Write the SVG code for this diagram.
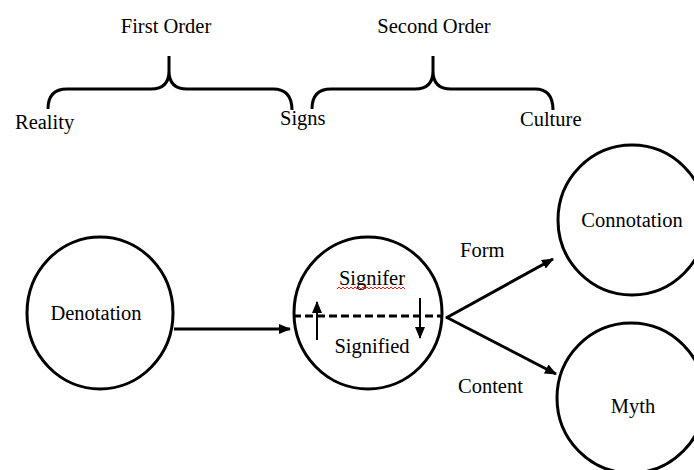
<svg xmlns="http://www.w3.org/2000/svg" width="694" height="470" viewBox="0 0 694 470">
<style>
.c{text-anchor:middle}
.node{fill:#fff;stroke:#000;stroke-width:3}
.ln{fill:none;stroke:#000;stroke-width:3}
</style>
<defs>
<marker id="ah" viewBox="0 0 12 10" refX="11" refY="5" markerWidth="12" markerHeight="10" markerUnits="userSpaceOnUse" orient="auto">
<path d="M0,0 L12,5 L0,10 Z" fill="#000"/>
</marker>
</defs>
<rect width="694" height="470" fill="#fff"/>
<g font-family="Liberation Serif, DejaVu Serif, serif" font-size="20.5" fill="#000">
<g id="braces">
<path class="ln" d="M48,109 Q48,89 67,89 L151,89 Q169,89 169,71 L169,56 M169,71 Q169,89 187,89 L273,89 Q292,89 292,110"/>
<path class="ln" d="M312,109 Q312,89 331,89 L415,89 Q433,89 433,71 L433,56 M433,71 Q433,89 451,89 L535,89 Q553,89 553,110"/>
<text class="c" x="166" y="33">First Order</text>
<text class="c" x="434" y="33">Second Order</text>
<text x="15" y="129">Reality</text>
<text x="280" y="125">Signs</text>
<text x="520" y="126">Culture</text>
</g>
<g id="denotation">
<ellipse class="node" cx="100" cy="313" rx="73" ry="76"/>
<text class="c" x="96" y="320">Denotation</text>
</g>
<g id="sign">
<ellipse class="node" cx="368" cy="313" rx="74" ry="76"/>
<line x1="293" y1="316" x2="443" y2="316" stroke="#000" stroke-width="3" stroke-dasharray="8,4"/>
<text class="c" x="372" y="285">Signifer</text>
<path d="M337,289 l2,-2 l2,2 l2,-2 l2,2 l2,-2 l2,2 l2,-2 l2,2 l2,-2 l2,2 l2,-2 l2,2 l2,-2 l2,2 l2,-2 l2,2 l2,-2 l2,2 l2,-2 l2,2 l2,-2 l2,2 l2,-2 l2,2 l2,-2 l2,2 l2,-2 l2,2 l2,-2 l2,2 l2,-2 l2,2 l2,-2 l2,2" fill="none" stroke="#e00" stroke-width="0.9"/>
<text class="c" x="372" y="353">Signified</text>
</g>
<g id="connotation">
<ellipse class="node" cx="632" cy="220" rx="74" ry="75"/>
<text class="c" x="632" y="227">Connotation</text>
</g>
<g id="myth">
<ellipse class="node" cx="631" cy="398" rx="74" ry="75"/>
<text class="c" x="633" y="413">Myth</text>
</g>
<g id="connectors">
<line class="ln" x1="174" y1="329" x2="290" y2="329" marker-end="url(#ah)"/>
<line x1="317" y1="340" x2="317" y2="302" stroke="#000" stroke-width="2" marker-end="url(#ah)"/>
<line x1="420" y1="298" x2="420" y2="338" stroke="#000" stroke-width="2" marker-end="url(#ah)"/>
<line class="ln" x1="446" y1="318" x2="553" y2="259" marker-end="url(#ah)"/>
<line class="ln" x1="446" y1="317" x2="556" y2="374" marker-end="url(#ah)"/>
<text x="460" y="257">Form</text>
<text x="458" y="393">Content</text>
</g>
</g>
</svg>
